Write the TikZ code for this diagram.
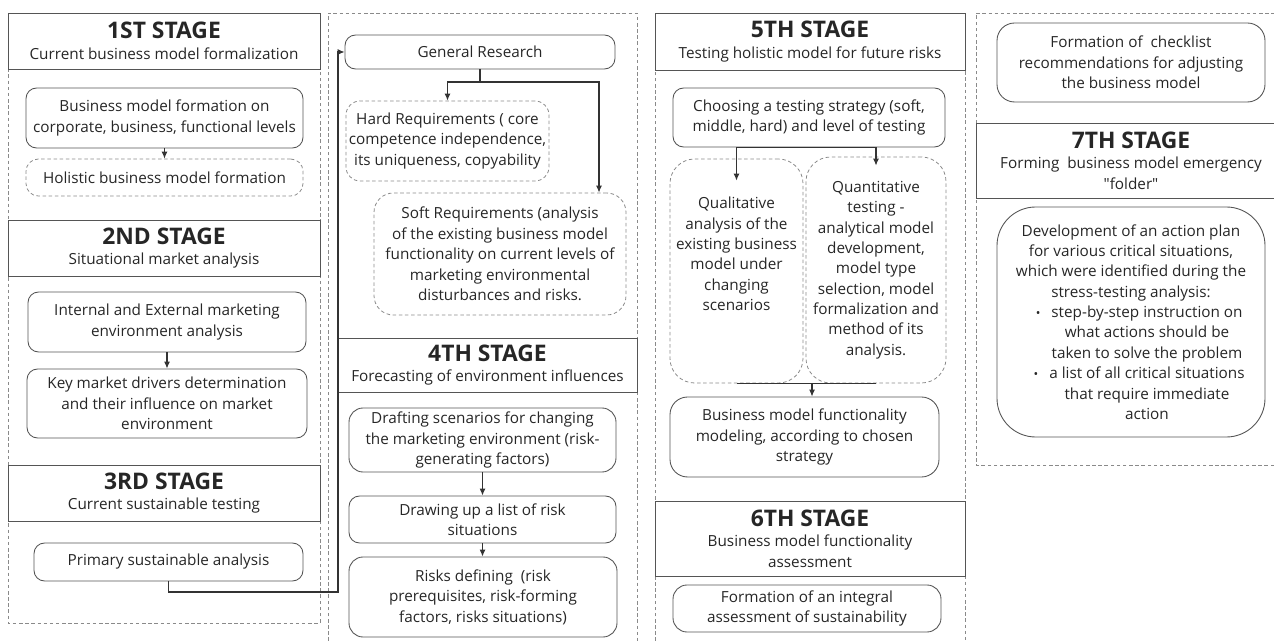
\documentclass[tikz,border=0pt]{standalone}
\usepackage{fontspec}
\setmainfont{Open Sans}
\usetikzlibrary{arrows.meta}
\definecolor{linec}{HTML}{333333}
\definecolor{framec}{HTML}{555555}
\definecolor{dashc}{HTML}{8A8A8A}
\definecolor{textc}{HTML}{262626}
\newcommand\stagetitle[1]{{\fontsize{13}{13}\selectfont\bfseries #1}}
\newcommand\bitem{\hspace*{0.64cm}\llap{{\scriptsize\textbullet}\hspace{0.22cm}}}
\newcommand\bcont{\hspace*{0.64cm}}
\def\px{0.02cm}

\begin{document}
\begin{tikzpicture}[x=0.02cm,y=-0.02cm]
\tikzset{
  every node/.style={text=textc, font=\fontsize{8.7}{11.6}\selectfont, align=center, inner sep=0pt},
  wh/.style 2 args={minimum width=#1*\px, minimum height=#2*\px},
  stage/.style={draw=framec, line width=0.5pt},
  sbox/.style={draw=framec, rounded corners=6pt, line width=0.5pt},
  dbox/.style={draw=dashc, dash pattern=on 2pt off 1.5pt, rounded corners=7pt, line width=0.45pt},
  colframe/.style={draw=dashc, dash pattern=on 2pt off 1.5pt, line width=0.45pt},
  link/.style={draw=linec, line width=0.6pt},
  arr/.style={link, -{Latex[length=4pt,width=3.4pt]}}
}
\useasboundingbox (0,0) rectangle (1274,641);
\clip (0,0) rectangle (1274,641);

% columns
\draw[colframe] (8,13) rectangle (320,623);
\draw[colframe] (328,641) -- (328,13) -- (637,13) -- (637,641);
\draw[colframe] (655,641) -- (655,13) -- (965,13) -- (965,641);
\draw[colframe] (1274,465) -- (976,465) -- (976,13) -- (1274,13);

% stages 1-3
\node[stage, wh={312}{56}] (h1) at (164,41) {\stagetitle{1ST STAGE}\\Current business model formalization};
\node[sbox, wh={277}{60}] (b1) at (164.5,118) {Business model formation on\\corporate, business, functional levels};
\node[dbox, wh={277}{37}] (b2) at (164.5,177.5) {Holistic business model formation};
\node[stage, wh={312}{56}] (h2) at (164,248) {\stagetitle{2ND STAGE}\\Situational market analysis};
\node[sbox, wh={278}{60}] (b3) at (167,322) {Internal and External marketing\\environment analysis};
\node[sbox, wh={280}{69}] (b4) at (167,403.5) {Key market drivers determination\\and their influence on market\\environment};
\node[stage, wh={312}{56}] (h3) at (164,493) {\stagetitle{3RD STAGE}\\Current sustainable testing};
\node[sbox, wh={269}{38}] (b5) at (168.5,562) {Primary sustainable analysis};

% research and stage 4
\node[sbox, wh={270}{34}] (gr) at (480,52) {General Research};
\node[dbox, wh={203}{80}, rounded corners=8pt] (hard) at (447.5,141) {Hard Requirements ( core\\competence independence,\\its uniqueness, copyability};
\node[dbox, wh={252}{122}, rounded corners=11pt] (soft) at (500,254) {Soft Requirements (analysis\\of the existing business model\\functionality on current levels of\\marketing environmental\\disturbances and risks.};
\node[stage, wh={299}{54}] (h4) at (487.5,365) {\stagetitle{4TH STAGE}\\Forecasting of environment influences};
\node[sbox, wh={267}{64}, rounded corners=8pt] (d1) at (482.5,440) {Drafting scenarios for changing\\the marketing environment (risk-\\generating factors)};
\node[sbox, wh={267}{47}] (d2) at (482.5,519.5) {Drawing up a list of risk\\situations};
\node[sbox, wh={268}{80}, rounded corners=8pt] (d3) at (483,597) {Risks defining~~(risk\\prerequisites, risk-forming\\factors, risks situations)};

% stages 5-6
\node[stage, wh={310}{57}] (h5) at (810,41.5) {\stagetitle{5TH STAGE}\\Testing holistic model for future risks};
\node[sbox, wh={272}{59}] (ch) at (809,117.5) {Choosing a testing strategy (soft,\\middle, hard) and level of testing};
\node[dbox, wh={133}{224}, rounded corners=14pt] (qual) at (736.5,271) {};
\node (qualtxt) at (736.5,254) {Qualitative\\analysis of the\\existing business\\model under\\changing\\scenarios};
\node[dbox, wh={140}{226}, rounded corners=14pt] (quant) at (876,270) {Quantitative\\testing -\\analytical model\\development,\\model type\\selection, model\\formalization and\\method of its\\analysis.};
\coordinate (join) at (812,383);
\node[sbox, wh={269}{80}, rounded corners=10pt] (bm) at (804.5,437) {Business model functionality\\modeling, according to chosen\\strategy};
\node[stage, wh={310}{75}] (h6) at (810,538.5) {\stagetitle{6TH STAGE}\\Business model functionality\\assessment};
\node[sbox, wh={268}{47}, rounded corners=8pt] (fi) at (807,608.5) {Formation of an integral\\assessment of sustainability};

% stage 7
\node[sbox, wh={268}{79}, rounded corners=10pt] (fc) at (1131,62.5) {Formation of~~checklist\\recommendations for adjusting\\the business model};
\node[stage, wh={310}{75}] (h7) at (1131,160.5) {\stagetitle{7TH STAGE}\\Forming~~business model emergency\\\textquotedbl folder\textquotedbl};
\node[sbox, wh={268}{230}, rounded corners=22pt] (dev) at (1131,322) {Development of an action plan\\for various critical situations,\\which were identified during the\\stress-testing analysis:\\\bitem step-by-step instruction on\\\bcont what actions should be\\\bcont taken to solve the problem\\\bitem a list of all critical situations\\\bcont that require immediate\\\bcont action};

% connectors
\draw[arr] (b1) -- (b2);
\draw[arr] (b3) -- (b4);
\coordinate (back) at (338,592);
\draw[arr] (b5.south) |- (back) |- (gr.west);
\coordinate (split) at (480,82);
\coordinate (splitr) at (599,82);
\draw[arr] (gr.south) -- (split) -| (hard.north);
\draw[arr] (split) -- (splitr) -- (splitr |- soft.north);
\draw[arr] (d1.south) -- (d1.south |- d2.north);
\draw[arr] (d2.south) -- (d2.south |- d3.north);
\draw[link] (ch.south -| qual.north) -- (ch.south -| quant.north);
\draw[arr] (ch.south -| qual.north) -- ([yshift=-0.44cm]qual.north);
\draw[arr] (ch.south -| quant.north) -- ([yshift=-0.18cm]quant.north);
\draw[link] (qual.south) -- (quant.south);
\draw[arr] (join) -- (join |- bm.north);
\end{tikzpicture}
\end{document}
